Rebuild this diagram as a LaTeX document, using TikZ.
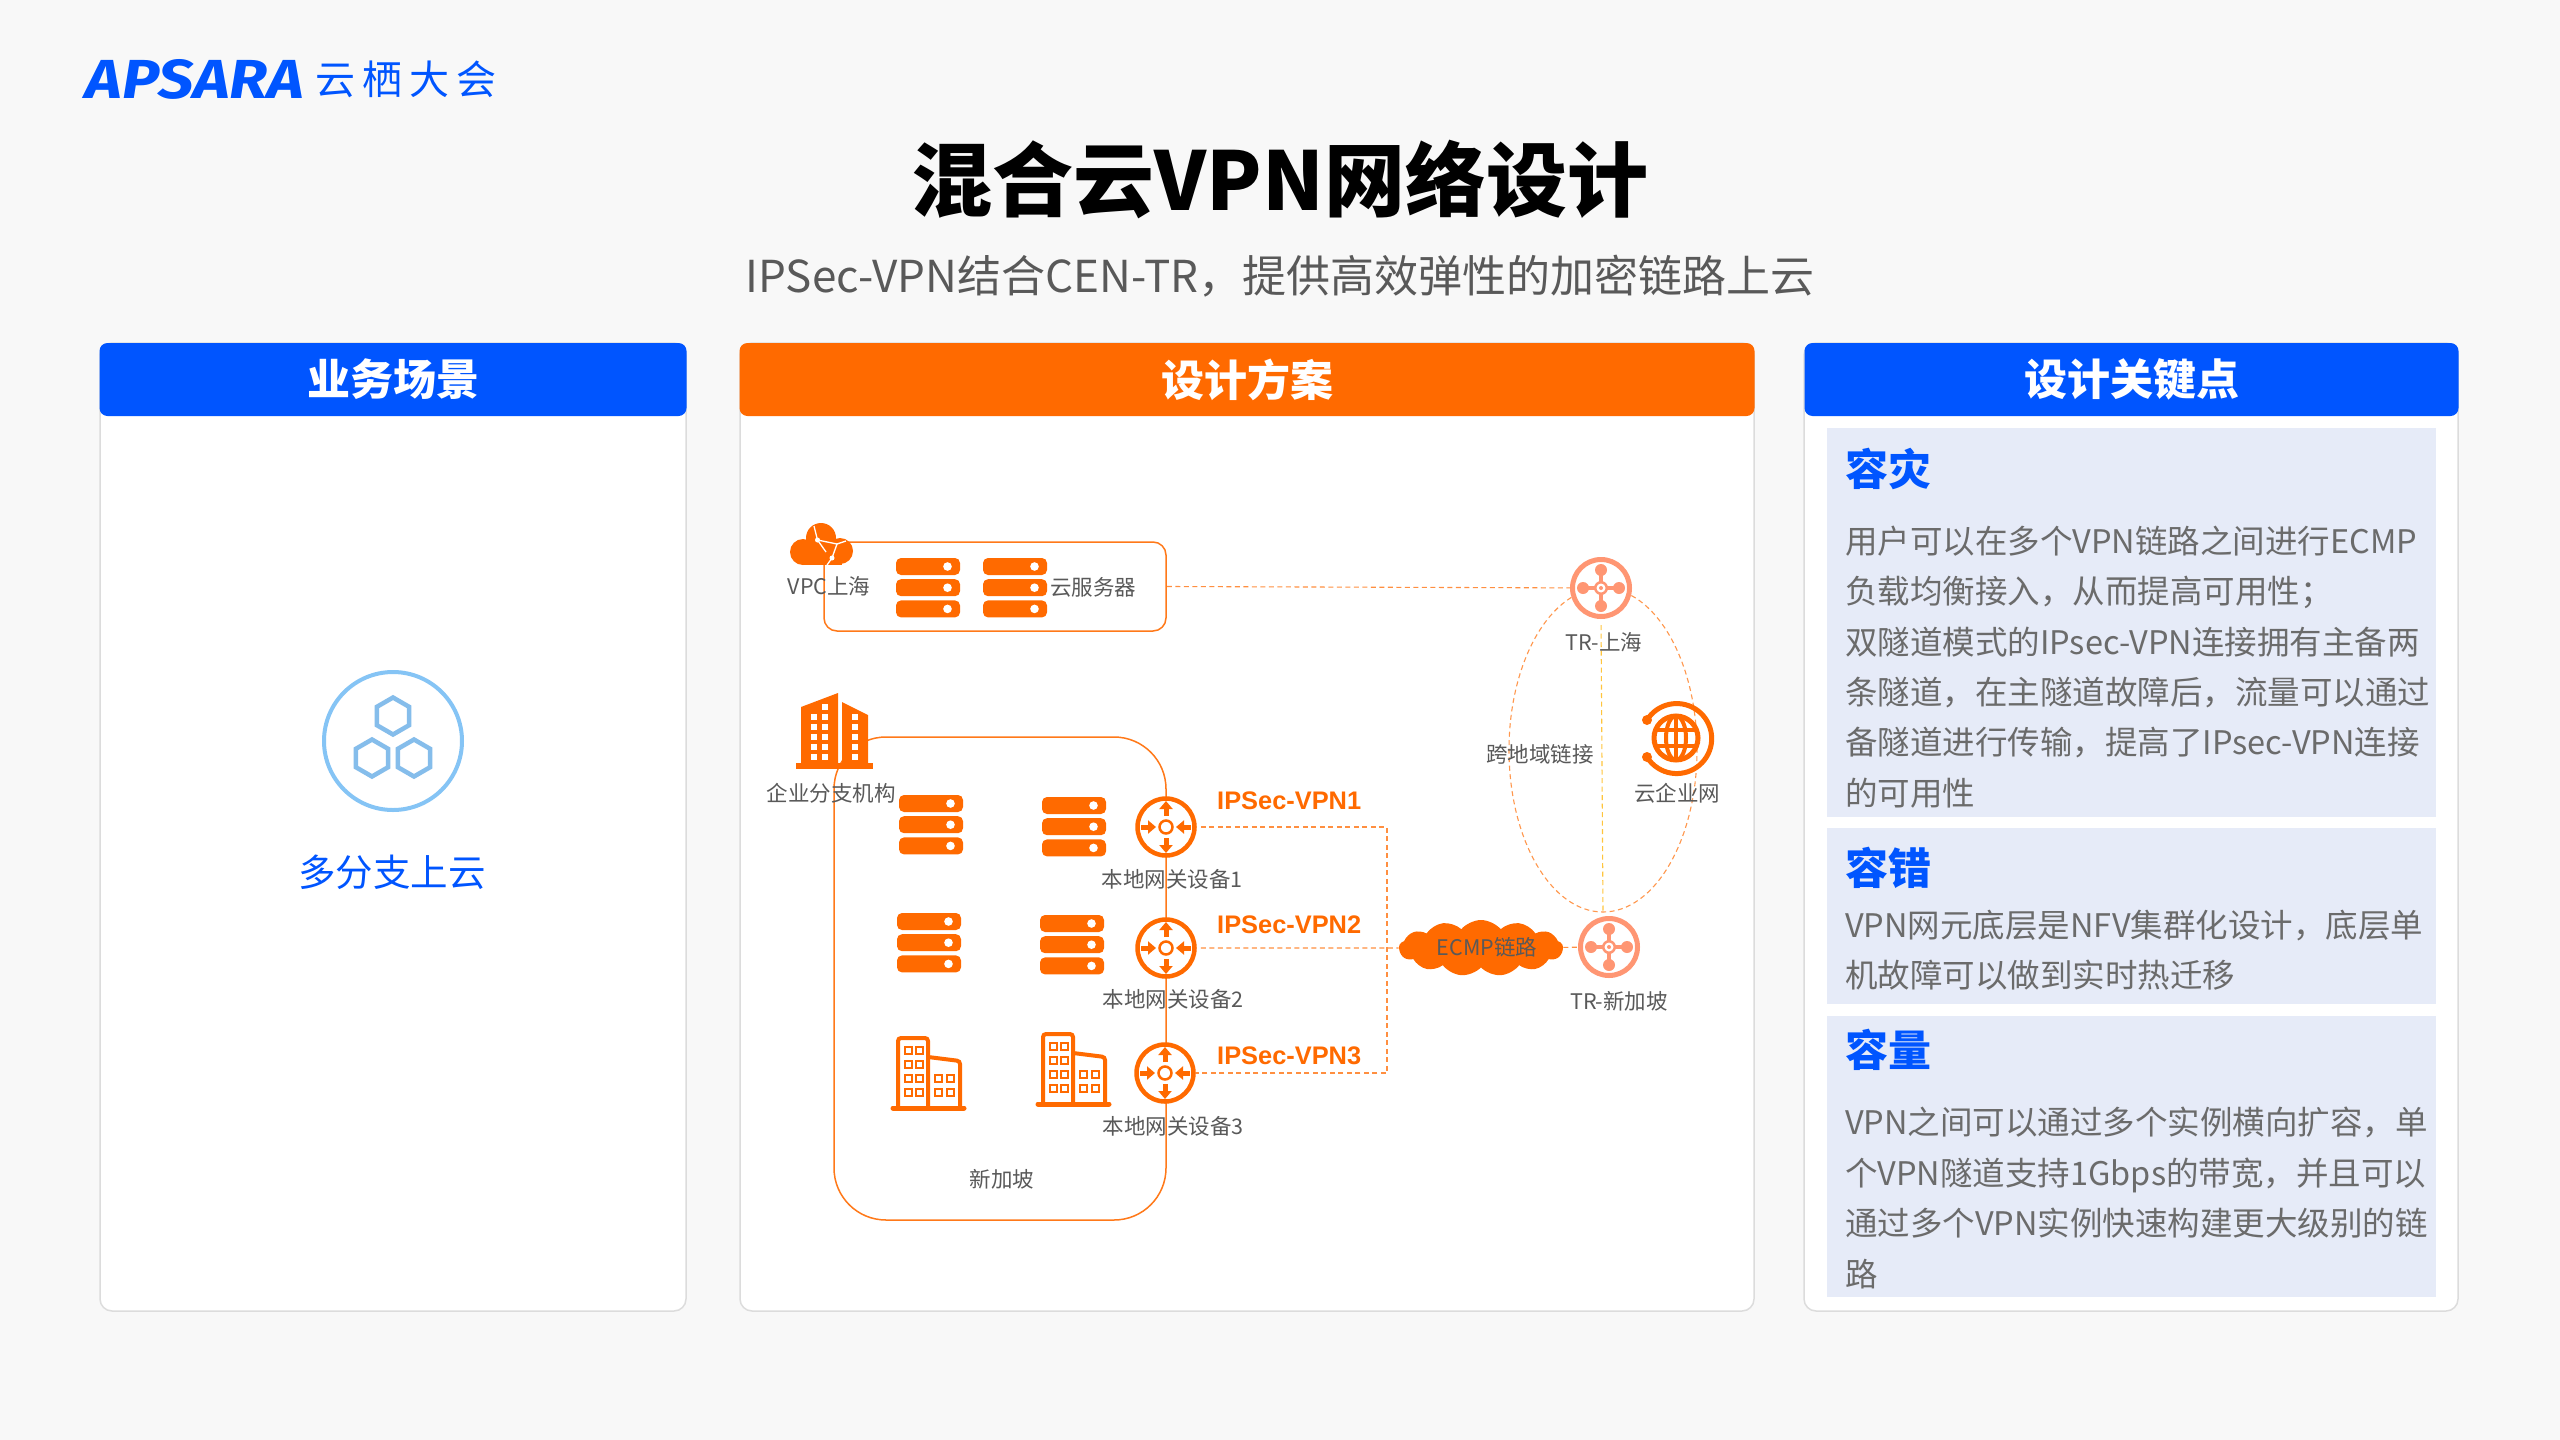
\documentclass[tikz,border=0pt]{standalone}
\usepackage{fontspec}
\setmainfont{Noto Sans CJK SC}
\newfontfamily\vpnfont{Liberation Sans}
\newfontfamily\logofont{Fira Sans}
\usetikzlibrary{arrows.meta,shapes.geometric,shapes.symbols}

\newcommand{\zhcomma}{\char"FF0C\relax}
\newcommand{\zhsemi}{\char"FF1B\relax}

\definecolor{pagebg}{HTML}{F8F8F8}
\definecolor{edgegray}{HTML}{DCDCDC}
\definecolor{headblue}{HTML}{0055FF}
\definecolor{headorange}{HTML}{FF6A00}
\definecolor{softblue}{HTML}{E6EBF8}
\definecolor{salmon}{HTML}{FF9673}
\definecolor{labelgray}{HTML}{595959}
\definecolor{bodygray}{HTML}{6B6B6B}
\definecolor{ringblue}{HTML}{85C4F5}
\definecolor{hexblue}{HTML}{85BDEB}
\definecolor{dashyellow}{HTML}{FFC53D}

\tikzset{
	panelbox/.style={draw=edgegray, line width=1.5pt, fill=white, rounded corners=12pt, inner sep=0pt},
	headbox/.style={rounded corners=8pt, minimum height=73pt, inner sep=0pt, text=white, font=\fontsize{43}{50}\selectfont\bfseries},
	notebox/.style={fill=softblue, minimum width=609pt, inner sep=0pt},
	notehead/.style={anchor=west, inner sep=0pt, text=headblue, font=\fontsize{43}{50}\selectfont\bfseries},
	notetext/.style={anchor=west, inner sep=0pt, align=left, text=bodygray, font=\fontsize{32.5}{50.4}\selectfont},
	smalltext/.style={inner sep=0pt, text=labelgray, font=\fontsize{21.5}{26}\selectfont},
	vpntext/.style={anchor=west, inner sep=0pt, text=headorange, font=\fontsize{25.4}{30}\selectfont\vpnfont\bfseries},
	areabox/.style={draw=headorange!90, line width=1.5pt, inner sep=0pt},
	linkdash/.style={draw=headorange!75, line width=1.1pt, dash pattern=on 5pt off 3.5pt},
	gwcircle/.style={circle, draw=headorange, fill=white, line width=4.5pt, minimum size=57pt, inner sep=0pt},
	trcircle/.style={circle, draw=salmon, fill=white, line width=5pt, minimum size=57pt, inner sep=0pt},
	hexnode/.style={regular polygon, regular polygon sides=6, regular polygon rotate=30, draw=hexblue, line width=4.5pt, minimum size=37pt, inner sep=0pt},
	serverstack/.pic={
		\foreach \k in {0,21.2,42.4} {
			\fill[headorange, rounded corners=5pt] (0,\k) rectangle (64,\k+17);
			\fill[white] (51.5,\k+8.5) circle[radius=4.3];
		}
	},
	officeblock/.pic={
		\draw[headorange, line width=4pt, rounded corners=3pt] (7,70) -- (7,2) -- (37,2) -- (37,70);
		\draw[headorange, line width=4pt, rounded corners=3pt] (37,21) -- (69,25) -- (69,70);
		\draw[headorange, line width=5pt, line cap=round] (2,72) -- (73,72);
		\foreach \px in {17,28} \foreach \py in {14,28,42,56}
			\draw[headorange, line width=2pt] (\px-3.5,\py-3.5) rectangle (\px+3.5,\py+3.5);
		\foreach \px in {47,59} \foreach \py in {42,56}
			\draw[headorange, line width=2pt] (\px-3.5,\py-3.5) rectangle (\px+3.5,\py+3.5);
	},
	gwmarks/.pic={
		\draw[headorange, line width=2.5pt] (0,0) circle[radius=6.5];
		\draw[headorange, line width=5pt, -{Triangle[width=13pt,length=8pt]}] (0,-11) -- (0,-26);
		\draw[headorange, line width=5pt, -{Triangle[width=13pt,length=8pt]}] (0,11) -- (0,26);
		\draw[headorange, line width=5pt, -{Triangle[width=13pt,length=8pt]}] (-25,0) -- (-10,0);
		\draw[headorange, line width=5pt, -{Triangle[width=13pt,length=8pt]}] (25,0) -- (10,0);
	},
	trmarks/.pic={
		\draw[salmon, line width=3.5pt] (-18,0) -- (18,0);
		\draw[salmon, line width=3.5pt] (0,-18) -- (0,18);
		\foreach \dx/\dy in {-18/0,18/0,0/-18,0/18}
			\fill[salmon] (\dx,\dy) circle[radius=6];
		\fill[salmon] (0,0) circle[radius=7];
		\fill[white] (0,0) circle[radius=4.5];
		\fill[salmon] (0,0) circle[radius=2];
	}
}

\begin{document}
\begin{tikzpicture}[x=1pt, y=-1pt]

	\useasboundingbox[fill=pagebg] (0,0) rectangle (2560,1440);

	\node (logo) at (195,79) [inner sep=0pt, text=headblue, font=\fontsize{55}{60}\selectfont\logofont\bfseries\itshape] {\scalebox{1.14}[1]{APSARA}};
	\node (logocn) at (406,79) [inner sep=0pt, text=headblue, font=\fontsize{40}{48}\selectfont] {云\hspace{7pt}栖\hspace{7pt}大\hspace{7pt}会};
	\node (title) at (1280,180) [inner sep=0pt, font=\fontsize{81}{95}\selectfont\bfseries] {混合云VPN网络设计};
	\node (subtitle) at (1280,276) [inner sep=0pt, text=labelgray, font=\fontsize{44}{54}\selectfont] {IPSec-VPN结合CEN-TR\zhcomma{}提供高效弹性的加密链路上云};

	\node (panelL) at (393,827) [panelbox, minimum width=586pt, minimum height=968pt] {};
	\node (panelM) at (1247,827) [panelbox, minimum width=1014pt, minimum height=968pt] {};
	\node (panelR) at (2131,827) [panelbox, minimum width=654pt, minimum height=968pt] {};
	\node (headL) at (393,379.5) [headbox, fill=headblue, minimum width=587pt] {业务场景};
	\node (headM) at (1247,379.5) [headbox, fill=headorange, minimum width=1015pt] {设计方案};
	\node (headR) at (2131.5,379.5) [headbox, fill=headblue, minimum width=654pt] {设计关键点};

	\node (ringL) at (393,741) [circle, draw=ringblue, line width=4pt, minimum size=138pt, inner sep=0pt] {};
	\node (hex1) at (393,716) [hexnode] {};
	\node (hex2) at (372,758) [hexnode] {};
	\node (hex3) at (414,758) [hexnode] {};
	\node (caseL) at (392,872) [inner sep=0pt, text=headblue, font=\fontsize{37.5}{45}\selectfont] {多分支上云};

	\node (note1) at (2131.5,622.5) [notebox, minimum height=389pt] {};
	\node (note2) at (2131.5,916) [notebox, minimum height=176pt] {};
	\node (note3) at (2131.5,1156.5) [notebox, minimum height=281pt] {};
	\node (nhead1) at (1845,469) [notehead] {容灾};
	\node (nhead2) at (1845,868) [notehead] {容错};
	\node (nhead3) at (1845,1050) [notehead] {容量};
	\node (ntext1) at (1845,667) [notetext] {用户可以在多个VPN链路之间进行ECMP\\负载均衡接入\zhcomma{}从而提高可用性\zhsemi{}\\双隧道模式的IPsec-VPN连接拥有主备两\\条隧道\zhcomma{}在主隧道故障后\zhcomma{}流量可以通过\\备隧道进行传输\zhcomma{}提高了IPsec-VPN连接\\的可用性};
	\node (ntext2) at (1845,950) [notetext] {VPN网元底层是NFV集群化设计\zhcomma{}底层单\\机故障可以做到实时热迁移};
	\node (ntext3) at (1845,1198) [notetext] {VPN之间可以通过多个实例横向扩容\zhcomma{}单\\个VPN隧道支持1Gbps的带宽\zhcomma{}并且可以\\通过多个VPN实例快速构建更大级别的链\\路};

	\node (vpcbox) at (995,586.5) [areabox, rounded corners=13pt, minimum width=342pt, minimum height=89pt] {};
	\node (sgbox) at (1000,978.5) [areabox, rounded corners=52pt, minimum width=332pt, minimum height=483pt] {};

	\node (ring) at (1603,750) [ellipse, linkdash, draw=headorange!70, minimum width=188pt, minimum height=324pt, inner sep=0pt] {};
	\node (tr1) at (1601,588) [trcircle] {};
	\node (tr2) at (1609,947) [trcircle] {};
	\pic at (tr1) {trmarks};
	\pic at (tr2) {trmarks};
	\draw[linkdash, draw=dashyellow] (tr1.south) [shorten <=6pt] -- (ring.south);

	\node (gw1) at (1166,827) [gwcircle] {};
	\node (gw2) at (1166,948) [gwcircle] {};
	\node (gw3) at (1165,1073) [gwcircle] {};
	\foreach \x in {1,2,3} {
		\pic at (gw\x) {gwmarks};
	}
	\node (ecmp) at (1481,948) [cloud, cloud puffs=13, cloud puff arc=100, aspect=3.2, fill=headorange, minimum width=164pt, minimum height=56pt, inner sep=0pt] {};
	\coordinate (bus1) at (1387,827);
	\coordinate (bus3) at (1387,1073);
	\draw[linkdash] (gw1) [shorten <=4pt] -- (bus1) -- (bus3) -- (gw3);
	\draw[linkdash] (gw2) [shorten <=4pt] -- (ecmp);
	\draw[linkdash] (ecmp) -- (tr2);
	\draw[linkdash] (vpcbox.east) -- (tr1);

	\foreach \px/\py in {896/558,983/558,899/795,1042/797,897/913,1040/915} {
		\pic at (\px,\py) {serverstack};
	}
	\pic at (891,1036) {officeblock};
	\pic at (1036,1032) {officeblock};

	\fill[headorange] (803,552) circle[radius=13];
	\fill[headorange] (821,538) circle[radius=15];
	\fill[headorange] (840,551) circle[radius=13];
	\fill[headorange] (803,552) rectangle (842,565);
	\draw[white, line width=1.3pt] (814,526) -- (817.5,540) -- (837,544) -- (832,558) -- (827,565);
	\draw[white, line width=1.3pt] (817.5,540) -- (826,552) (837,544) -- (846,541);
	\foreach \px/\py in {817.5/540,832/558} {
		\fill[white] (\px,\py) circle[radius=2.5];
	}

	\fill[headorange] (801,763) -- (801,707) -- (838,693) -- (838,763) -- cycle;
	\fill[headorange] (842,763) -- (842,702) -- (868,715) -- (868,763) -- cycle;
	\fill[headorange] (796,763) rectangle (873,769);
	\foreach \py in {707,717,727,737,747,757} {
		\fill[white] (822,\py-3) rectangle (828,\py+3);
	}
	\foreach \py in {717,727,737,747,757} {
		\fill[white] (811,\py-3) rectangle (817,\py+3);
		\fill[white] (852,\py-3) rectangle (858,\py+3);
	}

	\draw[headorange, line width=5pt] (1676,738) circle[radius=22];
	\draw[headorange, line width=4pt] (1676,738) ellipse[x radius=10, y radius=22];
	\draw[headorange, line width=4pt] (1676,716) -- (1676,760) (1655,730) -- (1697,730) (1655,746) -- (1697,746);
	\draw[headorange, line width=5pt] (1647,720) arc[start angle=-148, end angle=148, radius=35];
	\fill[headorange] (1647,720) circle[radius=5];
	\fill[headorange] (1647,757) circle[radius=5];

	\node (lblvpc) at (829,586) [smalltext] {VPC上海};
	\node (lblsrv) at (1093,587) [smalltext] {云服务器};
	\node (lblcorp) at (831,793) [smalltext] {企业分支机构};
	\node (lblgw1) at (1172,879) [smalltext] {本地网关设备1};
	\node (lblgw2) at (1173,999) [smalltext] {本地网关设备2};
	\node (lblgw3) at (1173,1126) [smalltext] {本地网关设备3};
	\node (lblsg) at (1002,1179) [smalltext] {新加坡};
	\node (lbltr1) at (1604,642) [smalltext] {TR-上海};
	\node (lbltr2) at (1619,1001) [smalltext] {TR-新加坡};
	\node (lblcross) at (1540,754) [smalltext] {跨地域链接};
	\node (lblcen) at (1677,793) [smalltext] {云企业网};
	\node (lblecmp) at (1487,947) [smalltext] {ECMP链路};
	\node (vpn1) at (1217,801) [vpntext] {IPSec-VPN1};
	\node (vpn2) at (1217,925) [vpntext] {IPSec-VPN2};
	\node (vpn3) at (1217,1056) [vpntext] {IPSec-VPN3};

\end{tikzpicture}
\end{document}
